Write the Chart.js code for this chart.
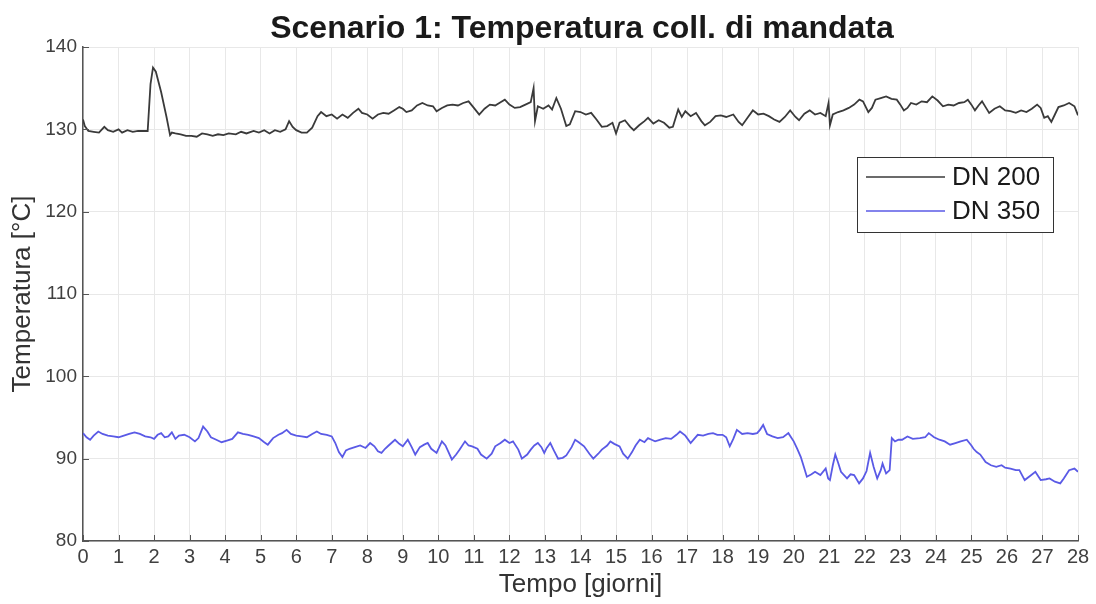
<!DOCTYPE html>
<html>
<head>
<meta charset="utf-8">
<script src="https://cdn.jsdelivr.net/npm/chart.js@4.4.1/dist/chart.umd.min.js"></script>
<style>
  html, body { margin: 0; padding: 0; background: #fff; }
  #wrap { width: 1096px; height: 604px; }
</style>
</head>
<body>
<div id="wrap"><canvas id="chart" width="1096" height="604"></canvas></div>
<script>
// data (days, °C)
const chartTitle = 'Scenario 1: Temperatura coll. di mandata';
const xTitle = 'Tempo [giorni]';
const yTitle = 'Temperatura [°C]';
const seriesLabels = ['DN 200', 'DN 350'];

const dn200Days = [0,0.05,0.15,0.3,0.45,0.6,0.7,0.85,1.0,1.1,1.25,1.4,1.55,1.7,1.82,1.9,1.97,2.05,2.2,2.35,2.45,2.5,2.6,2.75,2.9,3.05,3.2,3.35,3.5,3.65,3.8,3.95,4.1,4.3,4.45,4.6,4.8,4.95,5.1,5.25,5.4,5.55,5.7,5.8,5.9,6.0,6.15,6.3,6.45,6.6,6.7,6.85,7.0,7.15,7.3,7.45,7.6,7.75,7.85,8.0,8.15,8.3,8.45,8.6,8.75,8.9,9.0,9.1,9.25,9.4,9.55,9.7,9.85,9.95,10.1,10.25,10.4,10.55,10.7,10.85,11.0,11.15,11.3,11.45,11.6,11.75,11.87,12.0,12.15,12.3,12.45,12.6,12.68,12.72,12.8,12.95,13.1,13.2,13.32,13.45,13.6,13.7,13.85,14.0,14.15,14.3,14.45,14.6,14.75,14.9,15.0,15.1,15.25,15.4,15.5,15.65,15.8,15.9,16.05,16.2,16.35,16.5,16.6,16.75,16.85,16.95,17.1,17.25,17.4,17.5,17.65,17.8,17.95,18.1,18.3,18.45,18.55,18.7,18.85,19.0,19.15,19.3,19.45,19.6,19.75,19.9,20.05,20.15,20.3,20.45,20.6,20.75,20.9,20.98,21.02,21.1,21.25,21.4,21.55,21.7,21.85,21.95,22.1,22.2,22.3,22.45,22.6,22.75,22.9,23.0,23.1,23.2,23.3,23.45,23.6,23.75,23.9,24.05,24.2,24.35,24.5,24.65,24.8,24.9,25.0,25.1,25.2,25.3,25.4,25.5,25.65,25.8,25.95,26.1,26.25,26.4,26.55,26.7,26.85,26.95,27.05,27.15,27.25,27.35,27.45,27.6,27.75,27.9,28.0];
const dn200Temp = [131.2,130.4,129.8,129.7,129.6,130.3,129.9,129.7,130.0,129.6,129.9,129.7,129.8,129.8,129.8,135.5,137.5,137.0,134.5,131.5,129.3,129.6,129.5,129.4,129.2,129.2,129.1,129.5,129.4,129.2,129.4,129.3,129.5,129.4,129.7,129.5,129.8,129.6,129.9,129.5,129.9,129.7,130.0,131.0,130.3,129.9,129.6,129.6,130.2,131.6,132.1,131.6,131.8,131.3,131.8,131.4,132.0,132.5,132.0,131.8,131.3,131.8,132.0,131.9,132.3,132.7,132.5,132.1,132.3,132.9,133.2,132.9,132.8,132.2,132.6,132.9,133.0,132.9,133.2,133.4,132.6,131.8,132.5,133.0,132.9,133.3,133.6,133.0,132.6,132.7,133.0,133.3,135.0,131.0,132.8,132.5,132.9,132.4,133.8,132.5,130.4,130.6,132.2,132.1,131.8,132.0,131.2,130.3,130.4,130.8,129.5,130.8,131.1,130.3,129.9,130.5,131.0,131.4,130.7,131.1,130.8,130.2,130.3,132.4,131.5,132.2,131.6,132.0,131.0,130.5,130.9,131.6,131.7,131.5,131.8,130.9,130.5,131.4,132.3,131.8,131.9,131.6,131.2,130.9,131.5,132.3,131.5,131.1,131.9,132.3,131.8,132.0,131.6,133.2,130.5,131.8,132.1,132.3,132.6,133.0,133.6,133.4,132.1,132.6,133.6,133.8,134.0,133.7,133.6,133.0,132.3,132.6,133.2,133.0,133.4,133.3,134.0,133.5,132.8,133.0,132.9,133.2,133.3,133.6,133.0,132.3,132.9,133.4,132.7,132.0,132.5,132.8,132.3,132.2,132.0,132.3,132.1,132.5,133.0,132.6,131.4,131.6,130.9,131.8,132.7,132.9,133.2,132.8,131.7];

const dn350Days = [0,0.1,0.2,0.3,0.43,0.55,0.7,0.85,1.0,1.15,1.3,1.45,1.6,1.75,1.9,2.0,2.1,2.2,2.3,2.4,2.5,2.6,2.7,2.85,3.0,3.15,3.25,3.38,3.5,3.6,3.75,3.9,4.05,4.2,4.36,4.5,4.65,4.8,4.95,5.1,5.2,5.35,5.5,5.6,5.73,5.85,6.0,6.15,6.3,6.45,6.58,6.7,6.86,7.0,7.1,7.2,7.3,7.4,7.5,7.65,7.8,7.95,8.08,8.2,8.3,8.4,8.5,8.6,8.78,8.9,9.0,9.14,9.25,9.35,9.48,9.6,9.7,9.8,9.95,10.1,10.2,10.38,10.5,10.6,10.75,10.85,10.95,11.1,11.2,11.36,11.5,11.6,11.75,11.87,12.0,12.1,12.25,12.35,12.5,12.6,12.7,12.8,12.9,12.98,13.05,13.15,13.25,13.37,13.5,13.6,13.75,13.85,13.95,14.1,14.25,14.36,14.5,14.6,14.75,14.84,14.95,15.1,15.2,15.33,15.45,15.55,15.67,15.8,15.9,16.0,16.1,16.25,16.4,16.55,16.7,16.8,16.95,17.1,17.2,17.3,17.45,17.6,17.73,17.85,18.0,18.1,18.2,18.3,18.4,18.55,18.7,18.85,18.97,19.05,19.14,19.25,19.4,19.55,19.7,19.85,20.0,20.1,20.2,20.3,20.37,20.5,20.6,20.75,20.9,20.97,21.02,21.1,21.17,21.25,21.33,21.5,21.6,21.7,21.84,21.95,22.05,22.15,22.25,22.35,22.45,22.5,22.6,22.7,22.76,22.85,22.95,23.05,23.2,23.35,23.55,23.7,23.8,23.95,24.1,24.25,24.4,24.55,24.7,24.87,25.0,25.06,25.15,25.25,25.4,25.55,25.7,25.85,25.95,26.1,26.25,26.35,26.5,26.65,26.8,26.95,27.1,27.2,27.35,27.5,27.6,27.75,27.9,28.0];
const dn350Temp = [93.1,92.6,92.3,92.8,93.3,93.0,92.8,92.7,92.6,92.8,93.0,93.2,93.0,92.7,92.6,92.4,92.9,93.1,92.6,92.7,93.2,92.4,92.8,92.9,92.6,92.1,92.5,93.9,93.3,92.6,92.3,92.0,92.2,92.4,93.2,93.0,92.9,92.7,92.5,92.0,91.7,92.5,92.9,93.1,93.5,93.0,92.8,92.7,92.6,93.0,93.3,93.0,92.9,92.7,91.9,90.8,90.2,91.0,91.2,91.4,91.6,91.3,91.9,91.5,90.9,90.7,91.2,91.6,92.3,91.8,91.5,92.3,91.4,90.5,91.4,91.7,91.9,91.2,90.7,92.1,91.6,89.9,90.5,91.1,92.1,91.6,91.5,91.2,90.5,90.0,90.6,91.5,91.9,92.3,91.9,92.1,91.1,90.0,90.5,91.1,91.6,91.9,91.4,90.7,91.3,91.9,91.0,90.0,90.1,90.4,91.4,92.3,92.0,91.5,90.6,90.0,90.6,91.1,91.6,92.1,91.8,91.5,90.6,90.0,90.8,91.6,92.3,92.0,92.5,92.3,92.1,92.3,92.5,92.4,92.9,93.3,92.8,91.9,92.4,92.9,92.8,93.0,93.1,92.9,92.9,92.6,91.5,92.4,93.5,93.0,93.1,93.0,93.1,93.5,94.1,93.0,92.7,92.5,92.6,93.1,92.1,91.2,90.2,88.8,87.8,88.1,88.4,88.0,88.8,87.6,87.4,89.2,90.5,89.5,88.4,87.6,88.1,88.0,87.0,87.6,88.5,90.7,89.0,87.6,88.6,89.4,88.2,88.6,92.5,92.1,92.3,92.3,92.7,92.4,92.5,92.6,93.1,92.6,92.3,92.1,91.7,91.9,92.1,92.3,91.6,91.2,90.8,90.5,89.6,89.2,89.0,89.2,88.9,88.8,88.6,88.6,87.4,87.9,88.4,87.4,87.5,87.6,87.2,87.0,87.6,88.6,88.8,88.4];

const xTicks = {min: 0, max: 28, step: 1};
const yTicks = {min: 80, max: 140, step: 10};

const FONT = '"Liberation Sans", Arial, sans-serif';
const AXIS = '#555555';

function toPoints(xs, ys) {
    return xs.map((x, i) => ({x: x, y: ys[i]}));
}

// title, inward tick marks and the boxed legend inside the plot
const extras = {
    id: 'extras',
    afterDraw(chart) {
        const ctx = chart.ctx;
        const area = chart.chartArea;
        const xs = chart.scales.x, ys = chart.scales.y;
        ctx.save();

        // inward ticks
        ctx.strokeStyle = AXIS;
        ctx.lineWidth = 1;
        ctx.beginPath();
        xs.ticks.forEach(t => {
            const px = Math.round(xs.getPixelForValue(t.value)) + 0.5;
            ctx.moveTo(px, area.bottom);
            ctx.lineTo(px, area.bottom - 6);
        });
        ys.ticks.forEach(t => {
            const py = Math.round(ys.getPixelForValue(t.value)) + 0.5;
            ctx.moveTo(area.left, py);
            ctx.lineTo(area.left + 6, py);
        });
        ctx.stroke();

        // title
        ctx.fillStyle = '#1a1a1a';
        ctx.font = 'bold 32px ' + FONT;
        ctx.textAlign = 'center';
        ctx.textBaseline = 'middle';
        ctx.fillText(chartTitle, 582, 29);

        // legend
        const bx = 857, by = 157, bw = 196, bh = 75;
        ctx.fillStyle = '#ffffff';
        ctx.fillRect(bx, by, bw, bh);
        ctx.strokeStyle = '#333333';
        ctx.lineWidth = 1;
        ctx.strokeRect(bx + 0.5, by + 0.5, bw, bh);
        ctx.font = '26px ' + FONT;
        ctx.textAlign = 'left';
        chart.data.datasets.forEach((ds, i) => {
            const ly = 177 + i * 34;
            ctx.strokeStyle = ds.borderColor;
            ctx.lineWidth = 1.5;
            ctx.beginPath();
            ctx.moveTo(866, ly);
            ctx.lineTo(945, ly);
            ctx.stroke();
            ctx.fillStyle = '#1a1a1a';
            ctx.fillText(ds.label, 952, ly + 1);
        });
        ctx.restore();
    }
};

new Chart(document.getElementById('chart'), {
    type: 'line',
    data: {
        datasets: [
            {
                label: seriesLabels[0],
                data: toPoints(dn200Days, dn200Temp),
                borderColor: '#3a3a3a',
                borderWidth: 1.8,
                pointRadius: 0,
                tension: 0,
                fill: false
            },
            {
                label: seriesLabels[1],
                data: toPoints(dn350Days, dn350Temp),
                borderColor: '#5a5ae6',
                borderWidth: 1.8,
                pointRadius: 0,
                tension: 0,
                fill: false
            }
        ]
    },
    options: {
        responsive: false,
        animation: false,
        maintainAspectRatio: false,
        layout: { padding: { top: 47, right: 18, left: 0, bottom: 0 } },
        plugins: {
            legend: { display: false },
            title: { display: false },
            tooltip: { enabled: false }
        },
        scales: {
            x: {
                type: 'linear',
                min: xTicks.min,
                max: xTicks.max,
                afterFit: s => { s.height = 63; },
                ticks: { stepSize: xTicks.step, color: '#404040', font: { family: FONT, size: 20 }, padding: 4, maxRotation: 0, autoSkip: false },
                grid: { color: '#e8e8e8', drawTicks: false },
                border: { color: AXIS, width: 1.5 },
                title: { display: true, text: xTitle, color: '#333333', font: { family: FONT, size: 26 }, padding: { top: 0, bottom: 4 } }
            },
            y: {
                min: yTicks.min,
                max: yTicks.max,
                afterFit: s => { s.width = 83; },
                ticks: { stepSize: yTicks.step, color: '#404040', font: { family: FONT, size: 19 }, padding: 6 },
                grid: { color: '#e8e8e8', drawTicks: false },
                border: { color: AXIS, width: 1.5 },
                title: { display: true, text: yTitle, color: '#333333', font: { family: FONT, size: 26 }, padding: { top: 7, bottom: 0 } }
            }
        }
    },
    plugins: [extras]
});
</script>
</body>
</html>
